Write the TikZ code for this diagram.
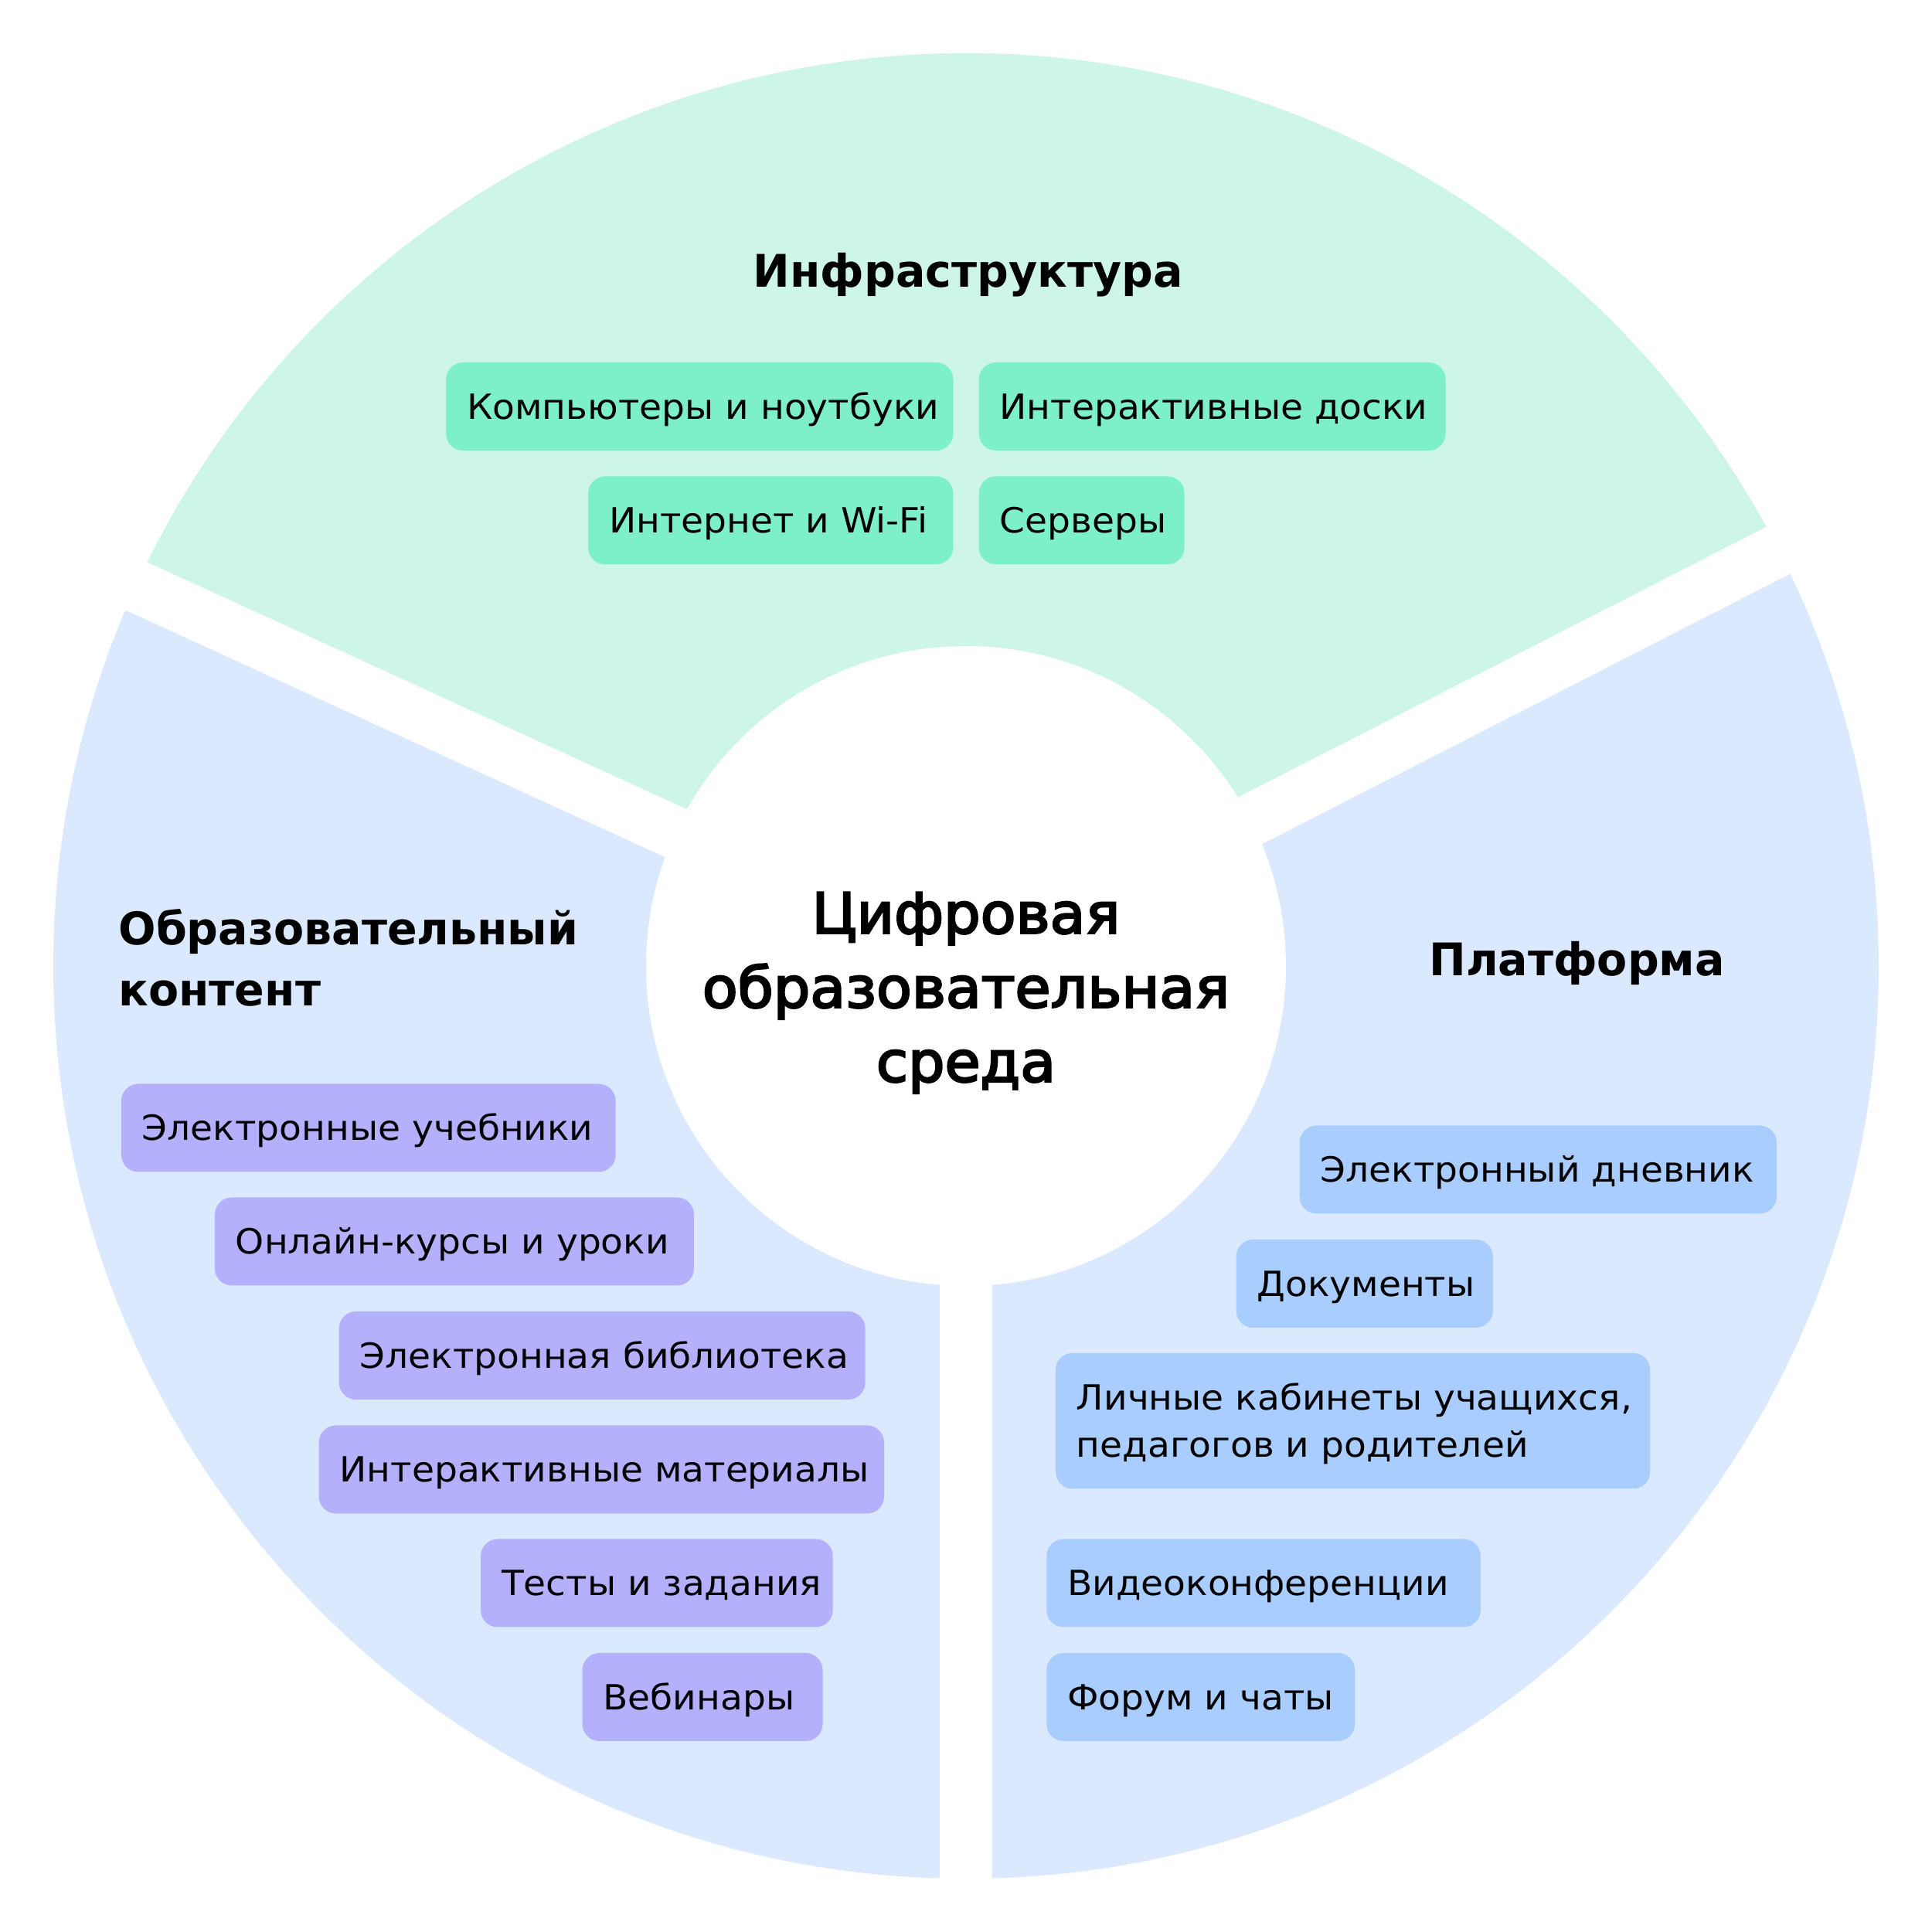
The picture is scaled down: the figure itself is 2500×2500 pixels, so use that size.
\documentclass[tikz,border=0pt]{standalone}
\usepackage{fontspec}
\setmainfont[FakeStretch=1.05]{DejaVu Sans}
\newfontfamily\titlefam[FakeBold=3.5,FakeStretch=1.03]{DejaVu Sans}
\newfontfamily\headfam[FakeStretch=0.98]{DejaVu Sans Bold}
\definecolor{greenbg}{HTML}{CEF6E7}
\definecolor{greenbox}{HTML}{7EF0C9}
\definecolor{bluebg}{HTML}{DBE9FE}
\definecolor{purplebox}{HTML}{B4B0FC}
\definecolor{bluebox}{HTML}{A9CDFE}
\newcommand{\bxt}[2]{\makebox[#1][l]{#2}}
\begin{document}
\begin{tikzpicture}[x=0.3pt,y=-0.3pt,
  item/.style={rounded corners=6.6pt, inner xsep=8.1pt, inner ysep=0pt,
    minimum height=34.2pt, text height=9.81pt, text depth=0pt,
    anchor=north west, font=\fontsize{13.46pt}{18.36pt}\selectfont},
  gitem/.style={item, fill=greenbox},
  pitem/.style={item, fill=purplebox},
  bitem/.style={item, fill=bluebox},
  heading/.style={font=\headfam\fontsize{17.45pt}{23.7pt}\selectfont, inner sep=0pt},
  titletext/.style={font=\titlefam\fontsize{21.8pt}{28.8pt}\selectfont, inner sep=0pt, align=center},
  gap/.style={draw=white, line width=20.4pt}]
\useasboundingbox (0,0) rectangle (2500,2500);
\coordinate (C) at (1250,1250);
% sectors
\fill[bluebg] (C) circle[radius=1181];
\fill[greenbg] (C) -- ++(204.6:1181) arc[start angle=204.6, end angle=332.9, radius=1181] -- cycle;
\draw[gap] (C) -- ++(204.6:1300);
\draw[gap] (C) -- ++(332.9:1300);
\draw[gap] (C) -- ++(90:1300);
\fill[white] (C) circle[radius=414];
% centre (base anchor = last line)
\node[titletext, anchor=base] (title) at (1250,1399.6) {Цифровая\\образовательная\\среда};
% headings
\node[heading, anchor=base] (h1) at (1252.7,371.7) {Инфраструктура};
\node[heading, anchor=base west, align=left] (h2) at (153,1301.7) {Образовательный\\контент};
\node[heading, anchor=base] (h3) at (2040.7,1262.5) {Платформа};
% infrastructure
\node[gitem, minimum width=196.9pt] (g1) at (576.5,468.3) {\bxt{180.7pt}{Компьютеры и ноутбуки}};
\node[gitem, minimum width=181.2pt] (g2) at (1266,468.3) {\bxt{165.0pt}{Интерактивные доски}};
\node[gitem, minimum width=141.7pt] (g3) at (760.4,615.7) {\bxt{125.5pt}{Интернет и Wi-Fi}};
\node[gitem, minimum width=79.8pt] (g4) at (1266,615.7) {\bxt{63.6pt}{Серверы}};
% content
\node[pitem, minimum width=191.9pt] (p1) at (156.3,1401.8) {\bxt{175.7pt}{Электронные учебники}};
\node[pitem, minimum width=186.0pt] (p2) at (277.3,1548.8) {\bxt{169.8pt}{Онлайн-курсы и уроки}};
\node[pitem, minimum width=204.3pt] (p3) at (438,1696.3) {\bxt{188.1pt}{Электронная библиотека}};
\node[pitem, minimum width=219.4pt] (p4) at (412,1843.8) {\bxt{203.2pt}{Интерактивные материалы}};
\node[pitem, minimum width=136.7pt] (p5) at (621.4,1990.8) {\bxt{120.5pt}{Тесты и задания}};
\node[pitem, minimum width=93.3pt] (p6) at (752.9,2138.3) {\bxt{77.1pt}{Вебинары}};
% platform
\node[bitem, minimum width=185.2pt] (b1) at (1681,1455.7) {\bxt{169.0pt}{Электронный дневник}};
\node[bitem, minimum width=99.7pt] (b2) at (1598.9,1603.3) {\bxt{83.5pt}{Документы}};
\node[bitem, minimum width=230.8pt, minimum height=52.7pt, text height=28.17pt, align=left] (b3) at (1365.3,1750.1) {\bxt{214.6pt}{Личные кабинеты учащихся,}\\\bxt{214.6pt}{педагогов и родителей}};
\node[bitem, minimum width=168.5pt] (b4) at (1353.6,1990.8) {\bxt{152.3pt}{Видеоконференции}};
\node[bitem, minimum width=119.7pt] (b5) at (1353.6,2138.2) {\bxt{103.5pt}{Форум и чаты}};
\end{tikzpicture}
\end{document}
